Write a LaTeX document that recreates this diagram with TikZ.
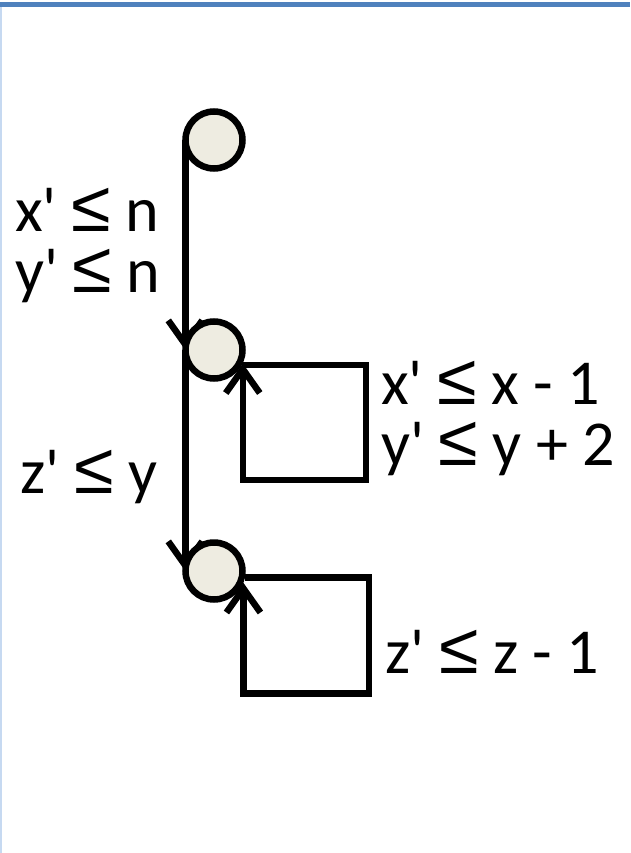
\documentclass[tikz,border=0pt]{standalone}
\usepackage{fontspec}
\setmainfont{Carlito}
\newfontfamily\symfont{Liberation Sans}
\usetikzlibrary{arrows.meta}
\pgfdeclarelayer{back}
\pgfsetlayers{back,main}
\definecolor{topbar}{HTML}{4F81BD}
\definecolor{sideline}{HTML}{C6D9F1}
\definecolor{statefill}{HTML}{EEECE1}
\newcommand{\leqsym}{{\symfont\fontsize{72}{72}\selectfont ≤}}
\newcommand{\pr}{\textquotesingle}
\tikzset{
  state/.style={circle,draw=black,fill=statefill,line width=6.5pt,inner sep=0pt,minimum size=57pt},
  edge/.style={line width=6.5pt,-{Straight Barb[length=24pt,width=34pt,line width=6.5pt]}},
  lbl/.style={anchor=base west,inner sep=0pt,align=left,font=\fontsize{64}{61}\selectfont}
}
\begin{document}
\begin{tikzpicture}[x=1pt,y=-1pt]
\useasboundingbox (0,0) rectangle (630,853);
\node[state] (s1) at (214,140) {};
\node[state] (s2) at (214,350) {};
\node[state] (s3) at (214,571) {};
\begin{pgfonlayer}{back}
\fill[white] (0,0) rectangle (630,853);
\fill[topbar] (0,2) rectangle (630,7.5);
\fill[sideline] (0,7.5) rectangle (1.5,853);
\draw[edge] ([xshift=3pt]s1.west) -- ([xshift=3pt]s2.west);
\draw[edge] ([xshift=3pt]s2.west) -- ([xshift=3pt]s3.west);
\draw[edge,line join=miter] (s2.-28) -| ++(124,115) -| (s2.-25);
\draw[edge,line join=miter] (s3.-12) -| ++(124,116) -| (s3.-22);
\end{pgfonlayer}
\node[lbl,anchor=north west] (l1) at (15,188) {x\pr{} \leqsym{} n\\y\pr{} \leqsym{} n};
\node[lbl] (l3) at (20,493) {z\pr{} \leqsym{} y};
\node[lbl,anchor=north west] (l4) at (381,361) {x\pr{} \leqsym{} x - 1\\y\pr{} \leqsym{} y + 2};
\node[lbl] (l6) at (385,673) {z\pr{} \leqsym{} z - 1};
\end{tikzpicture}
\end{document}
